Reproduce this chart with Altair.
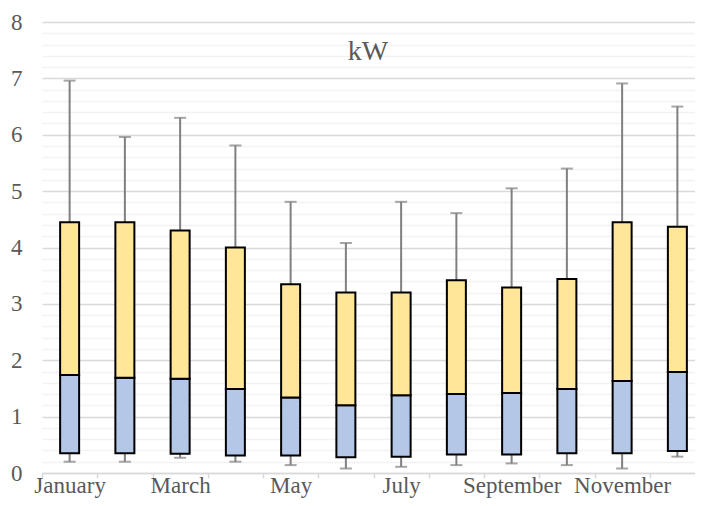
import altair as alt
import pandas as pd

months = ["January", "February", "March", "April", "May", "June", "July",
          "August", "September", "October", "November", "December"]
mins = [0.20, 0.20, 0.27, 0.20, 0.14, 0.08, 0.11, 0.14, 0.17, 0.14, 0.08, 0.29]
q1 = [0.35, 0.35, 0.34, 0.31, 0.31, 0.28, 0.29, 0.33, 0.33, 0.35, 0.35, 0.39]
med = [1.74, 1.69, 1.67, 1.49, 1.34, 1.20, 1.38, 1.40, 1.42, 1.49, 1.63, 1.79]
q3 = [4.45, 4.45, 4.30, 4.00, 3.35, 3.20, 3.20, 3.42, 3.29, 3.44, 4.45, 4.37]
maxs = [6.96, 5.96, 6.30, 5.81, 4.81, 4.08, 4.81, 4.61, 5.05, 5.40, 6.91, 6.50]
shown_labels = ["January", "March", "May", "July", "September", "November"]

df = pd.DataFrame({"month": months, "min": mins, "q1": q1, "median": med,
                   "q3": q3, "max": maxs})

FONT = "Liberation Serif, Times New Roman, DejaVu Serif, serif"
TXT = "#595959"

grid_values = [round(i * 0.2, 1) for i in range(41)]
yaxis = alt.Axis(
    values=grid_values,
    labelExpr="abs(datum.value - round(datum.value)) < 0.001 ? format(datum.value, 'd') : ''",
    grid=True,
    gridColor={"condition": {"test": "abs(datum.value - round(datum.value)) < 0.001",
                             "value": "#d9d9d9"}, "value": "#f2f2f2"},
    gridWidth=1.5,
    domain=False, ticks=False, labelPadding=20,
    labelFont=FONT, labelFontSize=23, labelColor=TXT, title=None,
)
yscale = alt.Scale(domain=[0, 8], nice=False, zero=True)

xaxis = alt.Axis(
    title=None, labelAngle=0, labelOverlap=False,
    labelExpr="indexof(" + str(shown_labels) + ", datum.value) >= 0 ? datum.value : ''",
    labelFont=FONT, labelFontSize=23, labelColor=TXT, labelPadding=-4,
    domainColor="#d9d9d9", domainWidth=1.5, tickColor="#d9d9d9", tickWidth=1.5,
    tickSize=5, tickBand="extent", grid=False, labelLimit=300,
)
x = alt.X("month:N", sort=months, axis=xaxis,
          scale=alt.Scale(paddingInner=0, paddingOuter=0))

base = alt.Chart(df).encode(x=x)

whisker = base.mark_rule(color="#808080", strokeWidth=2).encode(
    y=alt.Y("min:Q", scale=yscale, axis=yaxis), y2="max:Q")
cap_lo = base.mark_tick(color="#808080", thickness=2, size=12).encode(
    y=alt.Y("min:Q", scale=yscale, axis=yaxis))
cap_hi = base.mark_tick(color="#808080", thickness=2, size=12).encode(
    y=alt.Y("max:Q", scale=yscale, axis=yaxis))
lower = base.mark_bar(size=19, color="#b4c7e7", stroke="black", strokeWidth=2).encode(
    y=alt.Y("q1:Q", scale=yscale, axis=yaxis), y2="median:Q")
upper = base.mark_bar(size=19, color="#ffe699", stroke="black", strokeWidth=2).encode(
    y=alt.Y("median:Q", scale=yscale, axis=yaxis), y2="q3:Q")

title = alt.Chart(pd.DataFrame({"t": ["kW"]})).mark_text(
    font=FONT, fontSize=28, color=TXT, baseline="middle", align="center"
).encode(text="t:N", x=alt.value(326), y=alt.value(30))

chart = alt.layer(whisker, cap_lo, cap_hi, lower, upper, title).properties(
    width=663, height=451,
    autosize=alt.AutoSizeParams(type="none"),
    padding={"left": 34, "top": 14, "right": -10, "bottom": 25},
).configure_view(stroke=None)

chart.save("out.html", embed_options={"renderer": "svg", "actions": False})
